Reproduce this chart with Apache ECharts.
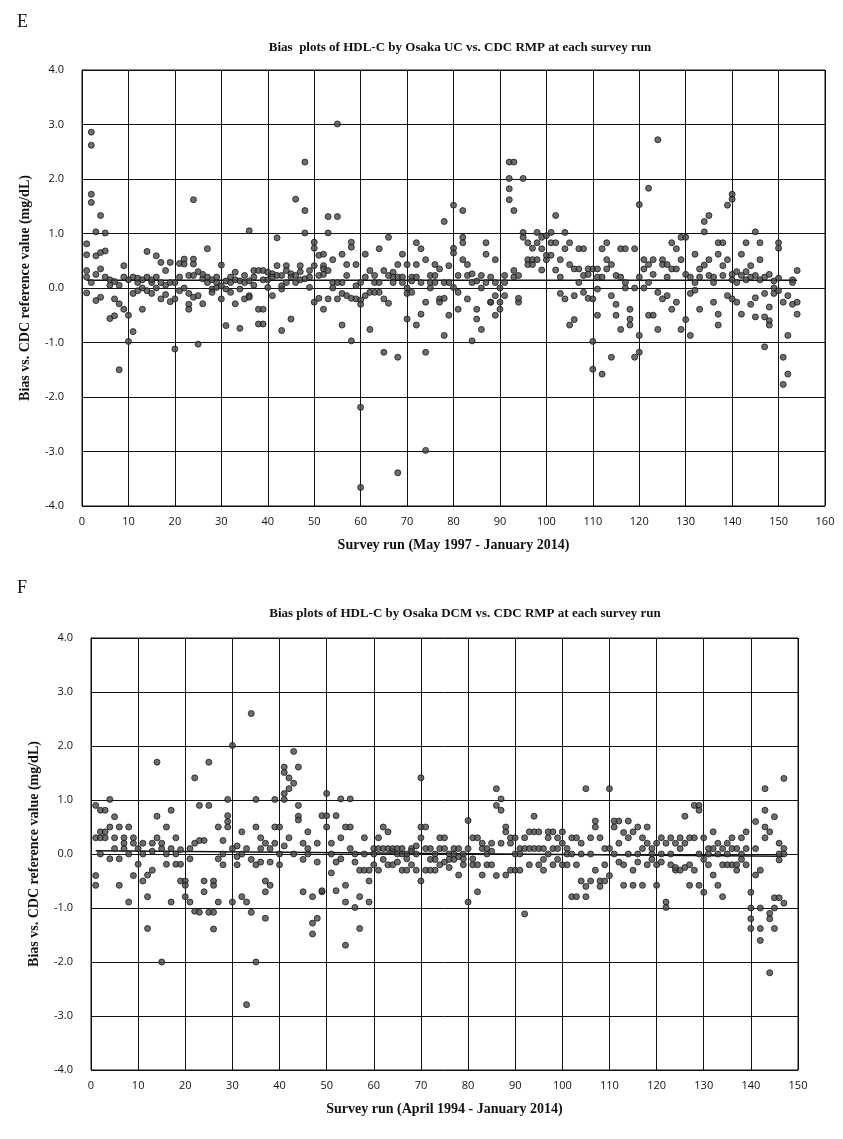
<!DOCTYPE html>
<html>
<head>
<meta charset="utf-8">
<script src="https://cdn.jsdelivr.net/npm/echarts@6/dist/echarts.min.js"></script>
<style>
  html, body { margin: 0; padding: 0; background: #fff; }
  #main { width: 843px; height: 1139px; }
</style>
</head>
<body>
<div id="main"></div>
<script>
// bias values per survey run (index 0 = run 1)
const biasE = [
  [0.81,0.61,0.32,-0.09,0.2],[2.86,2.62,1.72,1.57,0.1],[1.03,0.59,-0.23,0.25],[1.33,0.65,0.35,-0.17],[1.01,0.68,0.2],
  [-0.56,0.15,0.05],[-0.51,-0.2,0.12],[-1.5,-0.29,0.05],[-0.39,0.41,0.2],[-0.5,-0.98,0.15],
  [-0.8,-0.1,0.2],[-0.05,0.1,0.18],[-0.39,0.15,0.0],[0.67,0.2,-0.05],[0.1,-0.1,0.15],
  [0.59,0.2,0.0],[0.47,0.1,-0.2],[0.32,0.05,-0.12],[0.47,-0.25,0.1],[-1.12,0.1,-0.2],
  [0.45,0.2,-0.05],[0.53,0.44,0.0],[0.23,-0.1,-0.3,-0.39],[1.62,0.53,0.44,-0.17,0.23],[-1.03,0.3,-0.14],
  [0.17,-0.29,0.25],[0.72,0.1,0.2],[-0.02,-0.08,0.15],[0.01,0.1,0.2],[0.42,0.04,-0.2],
  [0.13,-0.02,-0.69],[0.2,0.1,-0.08],[0.29,-0.29,0.15],[0.13,-0.02,-0.74],[0.23,-0.2,0.1],
  [1.05,0.13,-0.14,-0.17],[0.2,0.32,0.05],[0.32,-0.39,-0.66],[0.32,-0.39,-0.66,0.15],[0.01,0.29,0.15],
  [0.26,-0.14,0.2],[0.92,0.41,0.23],[0.23,-0.02,0.04,-0.78],[0.41,0.32,0.1],[0.26,-0.57,0.2],
  [1.63,0.23,0.1],[0.41,0.15,0.3],[2.31,1.42,1.01,0.17],[0.32,0.01,0.2],[0.84,0.73,0.41,-0.26],
  [0.6,0.23,-0.19],[0.62,0.41,0.35,-0.39,0.25],[1.31,1.01,0.32,-0.2],[0.52,0.1,0.0],[3.01,1.31,0.1,-0.2],
  [0.62,-0.68,-0.1,0.1],[0.43,0.23,-0.14],[0.84,0.75,-0.97,-0.19],[0.43,0.04,-0.2],[-2.19,-3.66,0.1,-0.22,-0.3],
  [0.62,0.2,-0.14],[-0.76,0.32,-0.08],[0.23,0.1,-0.08],[0.72,0.1,-0.08],[-1.18,0.32,-0.2],
  [0.93,0.23,-0.28],[0.29,0.2,0.1],[-3.39,-1.27,0.43,0.2],[0.62,0.2,0.1],[-0.57,0.43,0.0,-0.1],
  [0.13,0.2,-0.08],[0.83,0.43,0.2,-0.68],[0.72,0.1,-0.48],[-2.98,-1.18,0.52,-0.26],[0.23,0.1,0.0],
  [0.43,0.23,0.1],[0.35,-0.2,-0.26],[1.22,0.1,-0.87,-0.19],[0.41,0.1,-0.5],[1.52,0.73,0.64,0.01],
  [0.23,-0.08,-0.39],[1.42,0.93,0.83,0.52],[0.43,0.23,-0.2],[-0.97,0.26,0.1],[-0.57,0.13,-0.39],
  [-0.76,0.23,0.0],[0.83,0.62,0.1],[0.2,-0.26,-0.26],[0.52,0.1,-0.14,-0.5],[0.0,-0.39,-0.26],
  [0.23,0.1,-0.14],[2.31,2.01,1.82,1.62],[2.31,1.42,0.32,0.2],[0.23,-0.26,-0.19],[2.01,1.02,0.93],
  [0.52,0.43,0.83],[0.73,0.43,0.52],[1.02,0.83,0.52],[0.93,0.72,0.33],[0.96,0.52,0.6],
  [1.02,0.83,0.6],[1.33,0.83,0.33],[0.52,-0.1,0.2],[1.02,0.72,-0.2],[0.83,-0.68,0.43],
  [0.35,-0.58,-0.14],[0.72,0.35,0.1],[0.72,0.23,-0.08],[0.35,0.25,-0.19],[-0.98,-1.49,0.35,-0.2],
  [-0.5,0.35,0.2,-0.02],[0.72,-1.58,0.2],[0.83,0.52,0.35],[-1.27,0.43,-0.14],[-0.5,0.23,-0.3],
  [0.72,-0.76,0.2],[0.72,0.1,0.0],[-0.57,-0.68,-0.39],[-1.27,0.72,0.0],[-1.18,-0.87,1.53,0.2],
  [0.52,0.35,0.0],[1.83,0.43,-0.5,0.1],[0.52,-0.5,0.25],[2.72,-0.76,-0.08],[0.52,0.43,-0.2],
  [0.43,-0.14,0.2],[0.83,-0.39,0.35],[0.72,0.35,-0.26],[0.93,-0.76,0.52],[0.93,-0.58,0.25],
  [-0.87,0.2,-0.1],[0.62,0.1,-0.04],[0.35,-0.39,0.2],[1.22,1.03,0.42],[1.33,0.52,0.23],
  [0.2,-0.26,0.1],[0.83,0.62,-0.48,-0.68],[0.83,0.41,0.23],[1.52,0.52,-0.14],[1.72,1.63,0.25,-0.2,0.15],
  [0.3,-0.26,0.1],[0.62,0.23,-0.48],[0.83,0.3,0.15],[0.41,0.2,-0.3],[1.03,0.23,-0.53,-0.18],
  [0.83,0.52,0.15],[-0.53,-1.08,0.2,-0.1],[-0.6,-0.68,-0.35,0.25],[0.13,-0.1,0.0],[0.83,0.73,0.18,-0.05],
  [-1.27,-1.77,-0.26],[-0.87,-1.58,-0.14],[0.15,-0.3,0.1],[0.32,-0.26,-0.48]
];

const biasF = [
  [0.9,-0.4,-0.58,0.3],[0.81,0.41,0.3,0.0],[0.81,0.41,0.3],[1.01,0.5,-0.09],[0.69,0.3,0.1],
  [0.5,-0.58,-0.09],[0.2,0.1,0.3],[0.5,-0.89,0.0],[0.3,-0.4,0.2],[0.1,-0.19],
  [-0.5,0.0,0.2],[-1.38,-0.79,-0.39],[0.2,-0.3,0.05],[1.7,0.7,0.3],[-2.0,0.1,0.2],
  [0.5,0.0,-0.19],[0.81,-0.89,0.1],[0.3,0.0,-0.19],[-0.5,-0.19,0.08],[-0.5,-0.58,-0.79],
  [-0.89,0.1,-0.09],[1.41,-1.06,0.2],[0.9,-1.08,0.25],[-0.5,-0.7,0.25],[0.9,1.7,-1.08],
  [-0.5,-0.58,-1.39,-1.08],[0.5,-0.89,-0.09],[0.25,-0.2,0.0],[1.01,0.71,0.6,0.5],[2.01,-0.89,0.1],
  [0.15,-0.2,-0.05],[0.41,-0.79,0.0],[-0.89,-2.79,0.1],[2.6,-1.08,-0.1],[1.01,0.5,-2.0,-0.2],
  [0.3,-0.15,0.1],[0.2,-0.5,-0.7,-1.19],[-0.58,0.1,-0.15],[1.01,0.5,0.2],[0.5,0.0,-0.2],
  [1.61,1.51,1.12,1.01,0.15],[1.41,1.21,0.3],[1.9,1.31,0.0],[1.61,0.9,0.7,0.63],[-0.7,0.2,-0.1],
  [0.41,0.1,0.0],[-0.79,-1.48,-1.28],[-1.19,0.2,-0.15],[0.71,-0.7,-0.68],[1.12,0.71,0.5],
  [0.2,-0.35,0.0],[0.71,-0.68,-0.15],[1.02,0.3,-0.09],[0.5,-0.58,-0.89,-1.69],[0.5,1.02,0.1],
  [-0.99,0.0,-0.15],[-0.79,-1.38,-0.3],[0.3,-0.3,0.0],[-0.89,-0.5,-0.3],[0.1,0.0,-0.2],
  [0.3,0.1,-0.3],[0.5,0.1,-0.1],[0.41,0.1,-0.2],[0.05,-0.2,0.1],[0.1,-0.15,0.0],
  [0.1,-0.3,0.0],[0.0,-0.09,-0.3],[0.1,-0.2,0.05],[0.15,-0.3,0.0],[1.41,0.5,0.3,-0.5],
  [0.5,0.1,-0.3],[0.1,-0.1,-0.3],[0.0,-0.1,-0.3],[0.3,0.1,-0.2],[0.3,0.1,-0.15],
  [0.0,-0.1,-0.25],[0.1,-0.1,0.0],[-0.39,0.1,-0.05],[0.0,-0.09,-0.2],[0.62,-0.89,0.1],
  [0.3,-0.09,-0.2],[-0.7,0.3,-0.2],[-0.39,0.1,0.2],[0.1,-0.2,0.0],[0.2,-0.2,0.05],
  [1.21,0.9,-0.4],[1.02,0.81,0.2],[0.5,0.41,-0.39],[0.3,0.2,-0.3],[0.3,0.0,-0.3],
  [0.1,-0.3,0.0],[-1.11,0.3,0.1],[0.41,0.1,-0.2],[0.7,0.41,0.1],[0.41,0.1,-0.2],
  [0.1,-0.3,-0.1],[0.41,0.3,0.0],[0.41,0.1,-0.2],[0.3,0.1,-0.1],[0.41,0.2,-0.2],
  [0.1,-0.2,0.0],[-0.79,0.3,0.0],[0.3,-0.2,-0.79],[0.2,0.0,-0.5],[1.21,-0.79,-0.6],
  [0.3,-0.5,0.0],[0.61,0.5,-0.3],[0.3,-0.5,-0.6],[0.1,-0.2,-0.5],[1.21,0.1,-0.4],
  [0.61,0.5,0.0],[0.61,0.2,-0.15],[0.4,-0.2,-0.58],[0.61,0.3,0.0],[0.41,-0.58,-0.3],
  [0.5,0.0,-0.15],[0.3,-0.58,0.1],[0.5,0.2,-0.2],[0.1,0.0,-0.1],[0.2,-0.58,-0.2],
  [0.3,0.0,-0.15],[-0.89,-0.99,0.2],[0.3,-0.2,0.0],[0.2,-0.3,-0.25],[0.3,-0.3,0.1],
  [0.7,0.2,-0.25],[0.3,-0.2,-0.58],[0.9,0.3,-0.3],[0.9,0.81,-0.58,0.0],[0.3,-0.71,-0.1],
  [0.1,-0.2,0.0],[0.41,-0.39,0.1],[0.2,-0.58,0.0],[0.1,-0.79,-0.2],[0.2,-0.2,0.0],
  [0.3,0.1,-0.2],[0.1,-0.2,-0.3],[0.3,0.0,-0.1],[0.41,0.1,-0.2],[-0.71,-1.0,-1.2,-1.38],
  [0.6,-0.39,0.1],[-1.0,-1.38,-1.6,-0.3],[1.21,0.81,0.5,0.3],[0.41,-1.1,-1.2,-2.2],[0.69,-0.81,-1.0,-1.38],
  [0.2,-0.11,-0.81,0.0],[1.4,0.1,0.0,-0.91]
];

// mean bias lines [run, bias]
const meanE = [[1, 0.14], [154, 0.14]];
const meanF = [[1, 0.06], [147, -0.04]];

const yTicks = [-4, -3, -2, -1, 0, 1, 2, 3, 4];

function toPoints(rows) {
  const pts = [];
  rows.forEach(function (vals, i) {
    vals.forEach(function (v) { pts.push([i + 1, v]); });
  });
  return pts;
}

const chart = echarts.init(document.getElementById('main'), null, { renderer: 'canvas' });

const serif = '"Liberation Serif", "DejaVu Serif", serif';
const sans = '"Open Sans", "Liberation Sans", sans-serif';

function xAx(idx, max, name) {
  return {
    gridIndex: idx, type: 'value', min: 0, max: max, interval: 10,
    name: name, nameLocation: 'middle', nameGap: 32,
    nameTextStyle: { fontFamily: serif, fontWeight: 'bold', fontSize: 14, color: '#111' },
    axisLine: { lineStyle: { color: '#111', width: 1 } },
    axisTick: { show: false },
    axisLabel: { fontFamily: sans, fontSize: 11, color: '#111', margin: 10 },
    splitLine: { show: true, lineStyle: { color: '#111', width: 1 } }
  };
}
function yAx(idx) {
  return {
    gridIndex: idx, type: 'value', min: yTicks[0], max: yTicks[yTicks.length - 1], interval: 1,
    name: 'Bias vs. CDC reference value (mg/dL)', nameLocation: 'middle', nameGap: 50,
    nameTextStyle: { fontFamily: serif, fontWeight: 'bold', fontSize: 14, color: '#111' },
    axisLine: { show: true, lineStyle: { color: '#111', width: 1 } },
    axisTick: { show: false },
    axisLabel: { fontFamily: sans, fontSize: 11, color: '#111', margin: 18,
      formatter: function (v) { return v.toFixed(1); } },
    splitLine: { show: true, lineStyle: { color: '#111', width: 1 } }
  };
}
const dot = {
  symbol: 'circle', symbolSize: 6,
  itemStyle: { color: '#4a4a4a', borderColor: '#1a1a1a', borderWidth: 1 }
};

chart.setOption({
  animation: false,
  backgroundColor: '#fff',
  title: [
    { text: 'E', left: 12, top: 8, textStyle: { fontFamily: serif, fontWeight: 'normal', fontSize: 18, color: '#111' } },
    { text: 'Bias  plots of HDL-C by Osaka UC vs. CDC RMP at each survey run', left: 455, top: 36, textAlign: 'center',
      textStyle: { fontFamily: serif, fontWeight: 'bold', fontSize: 13, color: '#111' } },
    { text: 'F', left: 12, top: 574, textStyle: { fontFamily: serif, fontWeight: 'normal', fontSize: 18, color: '#111' } },
    { text: 'Bias plots of HDL-C by Osaka DCM vs. CDC RMP at each survey run', left: 460, top: 602, textAlign: 'center',
      textStyle: { fontFamily: serif, fontWeight: 'bold', fontSize: 13, color: '#111' } }
  ],
  grid: [
    { left: 82, top: 70, width: 743, height: 436, show: true, borderColor: '#111', borderWidth: 1, backgroundColor: '#fff' },
    { left: 91, top: 638, width: 707, height: 432, show: true, borderColor: '#111', borderWidth: 1, backgroundColor: '#fff' }
  ],
  xAxis: [
    xAx(0, 160, 'Survey run (May 1997 - January 2014)'),
    xAx(1, 150, 'Survey run (April 1994 - January 2014)')
  ],
  yAxis: [yAx(0), yAx(1)],
  series: [
    { type: 'line', xAxisIndex: 0, yAxisIndex: 0, data: meanE, symbol: 'none',
      lineStyle: { color: '#111', width: 1.5 }, z: 3 },
    Object.assign({ type: 'scatter', xAxisIndex: 0, yAxisIndex: 0, data: toPoints(biasE), z: 4 }, dot),
    { type: 'line', xAxisIndex: 1, yAxisIndex: 1, data: meanF, symbol: 'none',
      lineStyle: { color: '#111', width: 1.5 }, z: 3 },
    Object.assign({ type: 'scatter', xAxisIndex: 1, yAxisIndex: 1, data: toPoints(biasF), z: 4 }, dot)
  ]
});
</script>
</body>
</html>
